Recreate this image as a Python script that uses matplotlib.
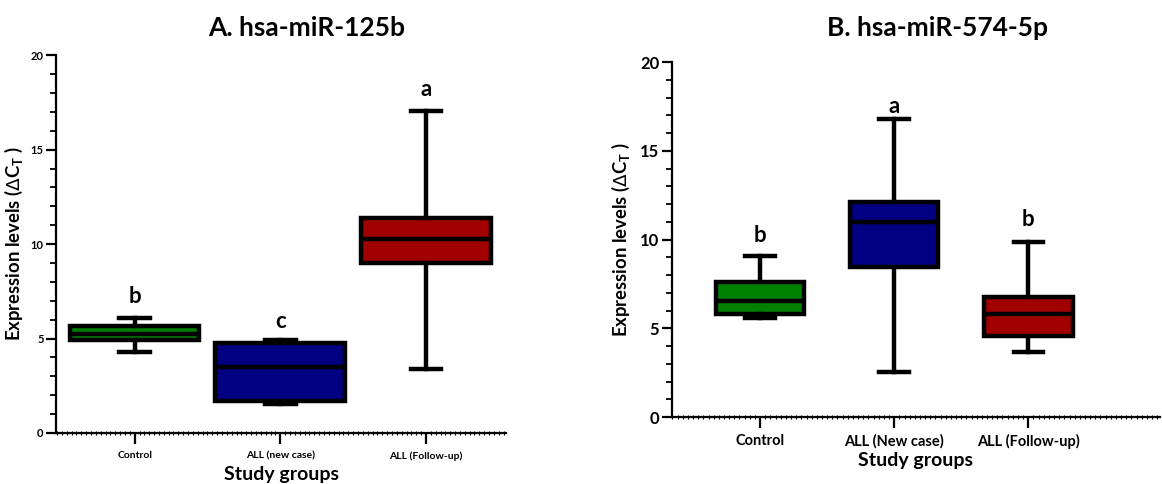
import matplotlib
matplotlib.use("Agg")
import matplotlib.pyplot as plt
from matplotlib.ticker import MultipleLocator

plt.rcParams['font.family'] = ['Lato', 'DejaVu Sans']

# panel A: hsa-miR-125b
groups_a = ["Control", "ALL (new case)", "ALL (Follow-up)"]
whislo_a = [4.3, 1.53, 3.38]
q1_a = [4.9, 1.67, 8.99]
med_a = [5.23, 3.49, 10.26]
q3_a = [5.64, 4.76, 11.4]
whishi_a = [6.08, 4.9, 17.02]
letters_a = ["b", "c", "a"]
letter_y_a = [7.2, 5.9, 18.2]

# panel B: hsa-miR-574-5p
groups_b = ["Control", "ALL (New case)", "ALL (Follow-up)"]
whislo_b = [5.58, 2.54, 3.66]
q1_b = [5.82, 8.43, 4.54]
med_b = [6.55, 10.99, 5.8]
q3_b = [7.6, 12.11, 6.76]
whishi_b = [9.09, 16.79, 9.86]
letters_b = ["b", "a", "b"]
letter_y_b = [10.2, 17.5, 11.1]

colors = ["#008000", "#000080", "#a00000"]

fig = plt.figure(figsize=(11.62, 4.84), dpi=100)
axA = fig.add_axes([0.0482, 0.1054, 0.3873, 0.7806])
axB = fig.add_axes([0.578, 0.1384, 0.42, 0.7335])


def draw_panel(ax, groups, lo, q1, med, q3, hi, letters, ly, width, capw,
               xlim, tick_fs, lab_fs, minor_step, xpad, xlab_pad, ylab_pad):
    stats = []
    for i in range(len(groups)):
        stats.append(dict(whislo=lo[i], q1=q1[i], med=med[i], q3=q3[i],
                          whishi=hi[i], label=groups[i]))
    pos = list(range(len(groups)))
    bp = ax.bxp(stats, positions=pos, widths=width, patch_artist=True,
                showfliers=False, capwidths=capw,
                boxprops=dict(linewidth=3.2, edgecolor="black"),
                medianprops=dict(color="black", linewidth=3.2),
                whiskerprops=dict(color="black", linewidth=3.2),
                capprops=dict(color="black", linewidth=3.2))
    for patch, c in zip(bp["boxes"], colors):
        patch.set_facecolor(c)
    for i, t in enumerate(letters):
        ax.text(pos[i], ly[i], t, ha="center", va="center",
                fontsize=16, fontweight="bold")
    ax.set_xlim(*xlim)
    ax.set_ylim(0, 20)
    ax.spines["top"].set_visible(False)
    ax.spines["right"].set_visible(False)
    ax.spines["left"].set_linewidth(1.6)
    ax.spines["bottom"].set_linewidth(1.6)
    ax.yaxis.set_major_locator(MultipleLocator(5))
    ax.yaxis.set_minor_locator(MultipleLocator(1))
    ax.xaxis.set_minor_locator(MultipleLocator(minor_step))
    ax.tick_params(axis="y", which="major", length=7, width=1.6,
                   labelsize=tick_fs, pad=2)
    ax.tick_params(axis="y", which="minor", length=4, width=1.3)
    ax.tick_params(axis="x", which="major", length=8, width=1.6,
                   labelsize=lab_fs, pad=xpad)
    ax.tick_params(axis="x", which="minor", length=3, width=0.8,
                   direction="inout")
    for lbl in ax.get_xticklabels() + ax.get_yticklabels():
        lbl.set_fontweight("bold")
    ax.set_xlabel("Study groups", fontsize=14, fontweight="bold",
                  labelpad=xlab_pad)
    ax.set_ylabel(r"Expression levels ($\Delta$C$_\mathregular{T}$ )",
                  fontsize=13.3, fontweight="bold", labelpad=ylab_pad)


draw_panel(axA, groups_a, whislo_a, q1_a, med_a, q3_a, whishi_a, letters_a,
           letter_y_a, 0.89, 0.21, (-0.54, 2.55), 8, 7.5, 1 / 30, 5, 4, 4)
draw_panel(axB, groups_b, whislo_b, q1_b, med_b, q3_b, whishi_b, letters_b,
           letter_y_b, 0.66, 0.22, (-0.66, 2.98), 12, 10.5, 1 / 26, 4, 2, 6)

fig.text(0.264, 0.942, "A. hsa-miR-125b", ha="center", va="center",
         fontsize=19, fontweight="bold")
fig.text(0.807, 0.942, "B. hsa-miR-574-5p", ha="center", va="center",
         fontsize=19, fontweight="bold")

fig.savefig("out.png", dpi=100)
